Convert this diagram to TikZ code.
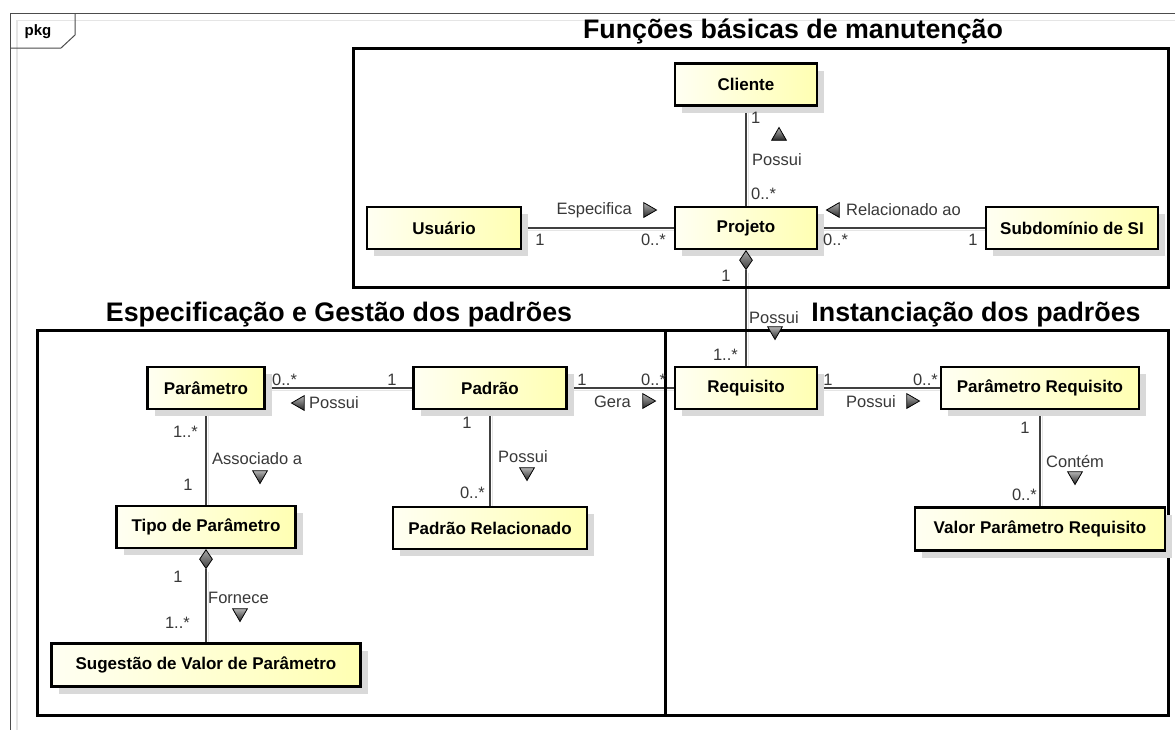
\documentclass[tikz,border=0pt]{standalone}
\usepackage{fontspec}
\setmainfont{Liberation Sans}
\usetikzlibrary{shapes.geometric,shadows}
\pgfdeclarelayer{bg}
\pgfsetlayers{bg,main}
\tikzset{
  cls/.style={draw=black, line width=2.5pt, left color=yellow!5, right color=yellow!30,
    font=\bfseries\fontsize{17}{19}\selectfont, inner sep=0pt, minimum height=42pt,
    drop shadow={shadow xshift=7pt, shadow yshift=-7pt, fill=black!15, opacity=1}},
  assoc/.style={draw=black!75, line width=1.1pt},
  assocsh/.style={draw=black!10, line width=1.5pt, transform canvas={xshift=2.5pt,yshift=-2.5pt}},
  lbl/.style={font=\fontsize{16.5}{18}\selectfont, text=black!78, inner sep=0pt},
  navtri/.style={regular polygon, regular polygon sides=3, draw=black, line width=0.8pt,
    top color=black!30, bottom color=black!85, minimum size=17pt, inner sep=0pt},
  tup/.style={navtri},
  tdown/.style={navtri, shape border rotate=180},
  tright/.style={navtri, shape border rotate=-90},
  tleft/.style={navtri, shape border rotate=90},
  pkgframe/.style={draw=black!70, line width=1pt},
  region/.style={draw=black, line width=3pt},
  ttl/.style={font=\bfseries\fontsize{26.8}{30}\selectfont, inner sep=0pt},
  dia/.style={diamond, draw=black, line width=0.8pt, top color=black!35, bottom color=black!75,
    minimum width=13pt, minimum height=19pt, inner sep=0pt}
}
\begin{document}
\begin{tikzpicture}[x=1pt,y=-1pt]
\useasboundingbox (0,0) rectangle (1175,729);
\begin{pgfonlayer}{bg}
\fill[white] (0,0) rectangle (1175,729);
\end{pgfonlayer}
\clip (0,0) rectangle (1175,729);
% package frame
\draw[black!10, line width=1.5pt] (17,740) -- (17,20.5) -- (1190,20.5);
\draw[pkgframe] (10,740) -- (10,13) -- (1190,13);
\draw[pkgframe] (10,48) -- (61,48) -- (75,35) -- (75,13);
\node[font=\bfseries\fontsize{15}{17}\selectfont, inner sep=0pt] (pkg) at (38,32) {pkg};
% regions
\draw[region] (353,48) rectangle (1168,287);
\draw[region] (37,330) rectangle (665,715);
\draw[region] (665,330) rectangle (1168,715);
\node[ttl] (t1) at (793,31) {Funções básicas de manutenção};
\node[ttl] (t2) at (339,315) {Especificação e Gestão dos padrões};
\node[ttl] (t3) at (976,315) {Instanciação dos padrões};
% classes
\node[cls, minimum width=142pt] (cliente) at (746,84.5) {Cliente};
\node[cls, minimum width=154pt] (usuario) at (444,228) {Usuário};
\node[cls, minimum width=142pt] (projeto) at (746,228) {Projeto};
\node[cls, minimum width=172pt] (subdominio) at (1072,228) {Subdomínio de SI};
\node[cls, minimum width=117pt] (parametro) at (206,388) {Parâmetro};
\node[cls, minimum width=153pt] (padrao) at (490,388) {Padrão};
\node[cls, minimum width=142pt] (requisito) at (746,388) {Requisito};
\node[cls, minimum width=198pt] (parreq) at (1040,388) {Parâmetro Requisito};
\node[cls, minimum width=179pt] (tipo) at (206,527) {Tipo de Parâmetro};
\node[cls, minimum width=194pt] (padrel) at (490,528) {Padrão Relacionado};
\node[cls, minimum width=309pt, minimum height=43pt] (sugestao) at (206,665) {Sugestão de Valor de Parâmetro};
\node[cls, minimum width=250pt, minimum height=43pt] (valor) at (1040,529) {Valor Parâmetro Requisito};
% composition diamonds
\node[dia, anchor=north] (d1) at (projeto.south) {};
\node[dia, anchor=north] (d2) at (tipo.south) {};
% connectors
\begin{pgfonlayer}{bg}
\foreach \a/\b in {cliente/projeto, usuario/projeto, projeto/subdominio, d1/requisito,
  parametro/padrao, padrao/requisito, requisito/parreq, parametro/tipo, padrao/padrel,
  d2/sugestao, parreq/valor}
  \draw[assocsh] (\a) -- (\b);
\draw[assoc] (cliente) -- (projeto);
\draw[assoc] (usuario) -- (projeto);
\draw[assoc] (projeto) -- (subdominio);
\draw[assoc] (d1) -- (requisito);
\draw[assoc] (parametro) -- (padrao);
\draw[assoc] (padrao) -- (requisito);
\draw[assoc] (requisito) -- (parreq);
\draw[assoc] (parametro) -- (tipo);
\draw[assoc] (padrao) -- (padrel);
\draw[assoc] (d2) -- (sugestao);
\draw[assoc] (parreq) -- (valor);
\end{pgfonlayer}
% labels: Cliente - Projeto
\node[lbl, anchor=west] (m1) at (751,118) {1};
\node[tup] (a1) at (779,136) {};
\node[lbl, anchor=west] (r1) at (752,160) {Possui};
\node[lbl, anchor=west] (m2) at (751,194) {0..*};
% Usuario - Projeto
\node[lbl, anchor=east] (r2) at (632,210) {Especifica};
\node[tright] (a2) at (648,210) {};
\node[lbl] (m3) at (540,240) {1};
\node[lbl, anchor=east] (m4) at (666,240) {0..*};
% Projeto - Subdominio
\node[tleft] (a3) at (835,210) {};
\node[lbl, anchor=west] (r3) at (846,210) {Relacionado ao};
\node[lbl, anchor=west] (m5) at (823,240) {0..*};
\node[lbl] (m6) at (973,240) {1};
% Projeto - Requisito
\node[lbl] (m7) at (726,276) {1};
\node[lbl, anchor=west] (r4) at (749,318) {Possui};
\node[tdown] (a4) at (775,331) {};
\node[lbl, anchor=east] (m8) at (738,355) {1..*};
% Parametro - Padrao
\node[lbl, anchor=west] (m9) at (272,380) {0..*};
\node[lbl] (m10) at (392,380) {1};
\node[tleft] (a5) at (300,403) {};
\node[lbl, anchor=west] (r5) at (309,403) {Possui};
% Padrao - Requisito
\node[lbl] (m11) at (582,380) {1};
\node[lbl, anchor=west] (m12) at (641,380) {0..*};
\node[lbl, anchor=east] (r6) at (631,402) {Gera};
\node[tright] (a6) at (647,401) {};
% Requisito - Parametro Requisito
\node[lbl] (m13) at (828,380) {1};
\node[lbl, anchor=east] (m14) at (938,380) {0..*};
\node[lbl, anchor=west] (r7) at (846,402) {Possui};
\node[tright] (a7) at (911,401) {};
% Parametro - Tipo
\node[lbl, anchor=east] (m15) at (198,432) {1..*};
\node[lbl, anchor=west] (r8) at (212,459) {Associado a};
\node[tdown] (a8) at (260,475) {};
\node[lbl] (m16) at (188,485) {1};
% Padrao - Padrao Relacionado
\node[lbl] (m17) at (467,423) {1};
\node[lbl, anchor=west] (r9) at (498,457) {Possui};
\node[tdown] (a9) at (527,472) {};
\node[lbl, anchor=east] (m18) at (485,493) {0..*};
% Tipo - Sugestao
\node[lbl] (m19) at (178,577) {1};
\node[lbl, anchor=west] (r10) at (208,598) {Fornece};
\node[tdown] (a10) at (240,613) {};
\node[lbl, anchor=east] (m20) at (190,623) {1..*};
% Parametro Requisito - Valor
\node[lbl] (m21) at (1025,428) {1};
\node[lbl, anchor=west] (r11) at (1046,461) {Contém};
\node[tdown] (a11) at (1075,476) {};
\node[lbl, anchor=east] (m22) at (1037,495) {0..*};
\end{tikzpicture}
\end{document}
